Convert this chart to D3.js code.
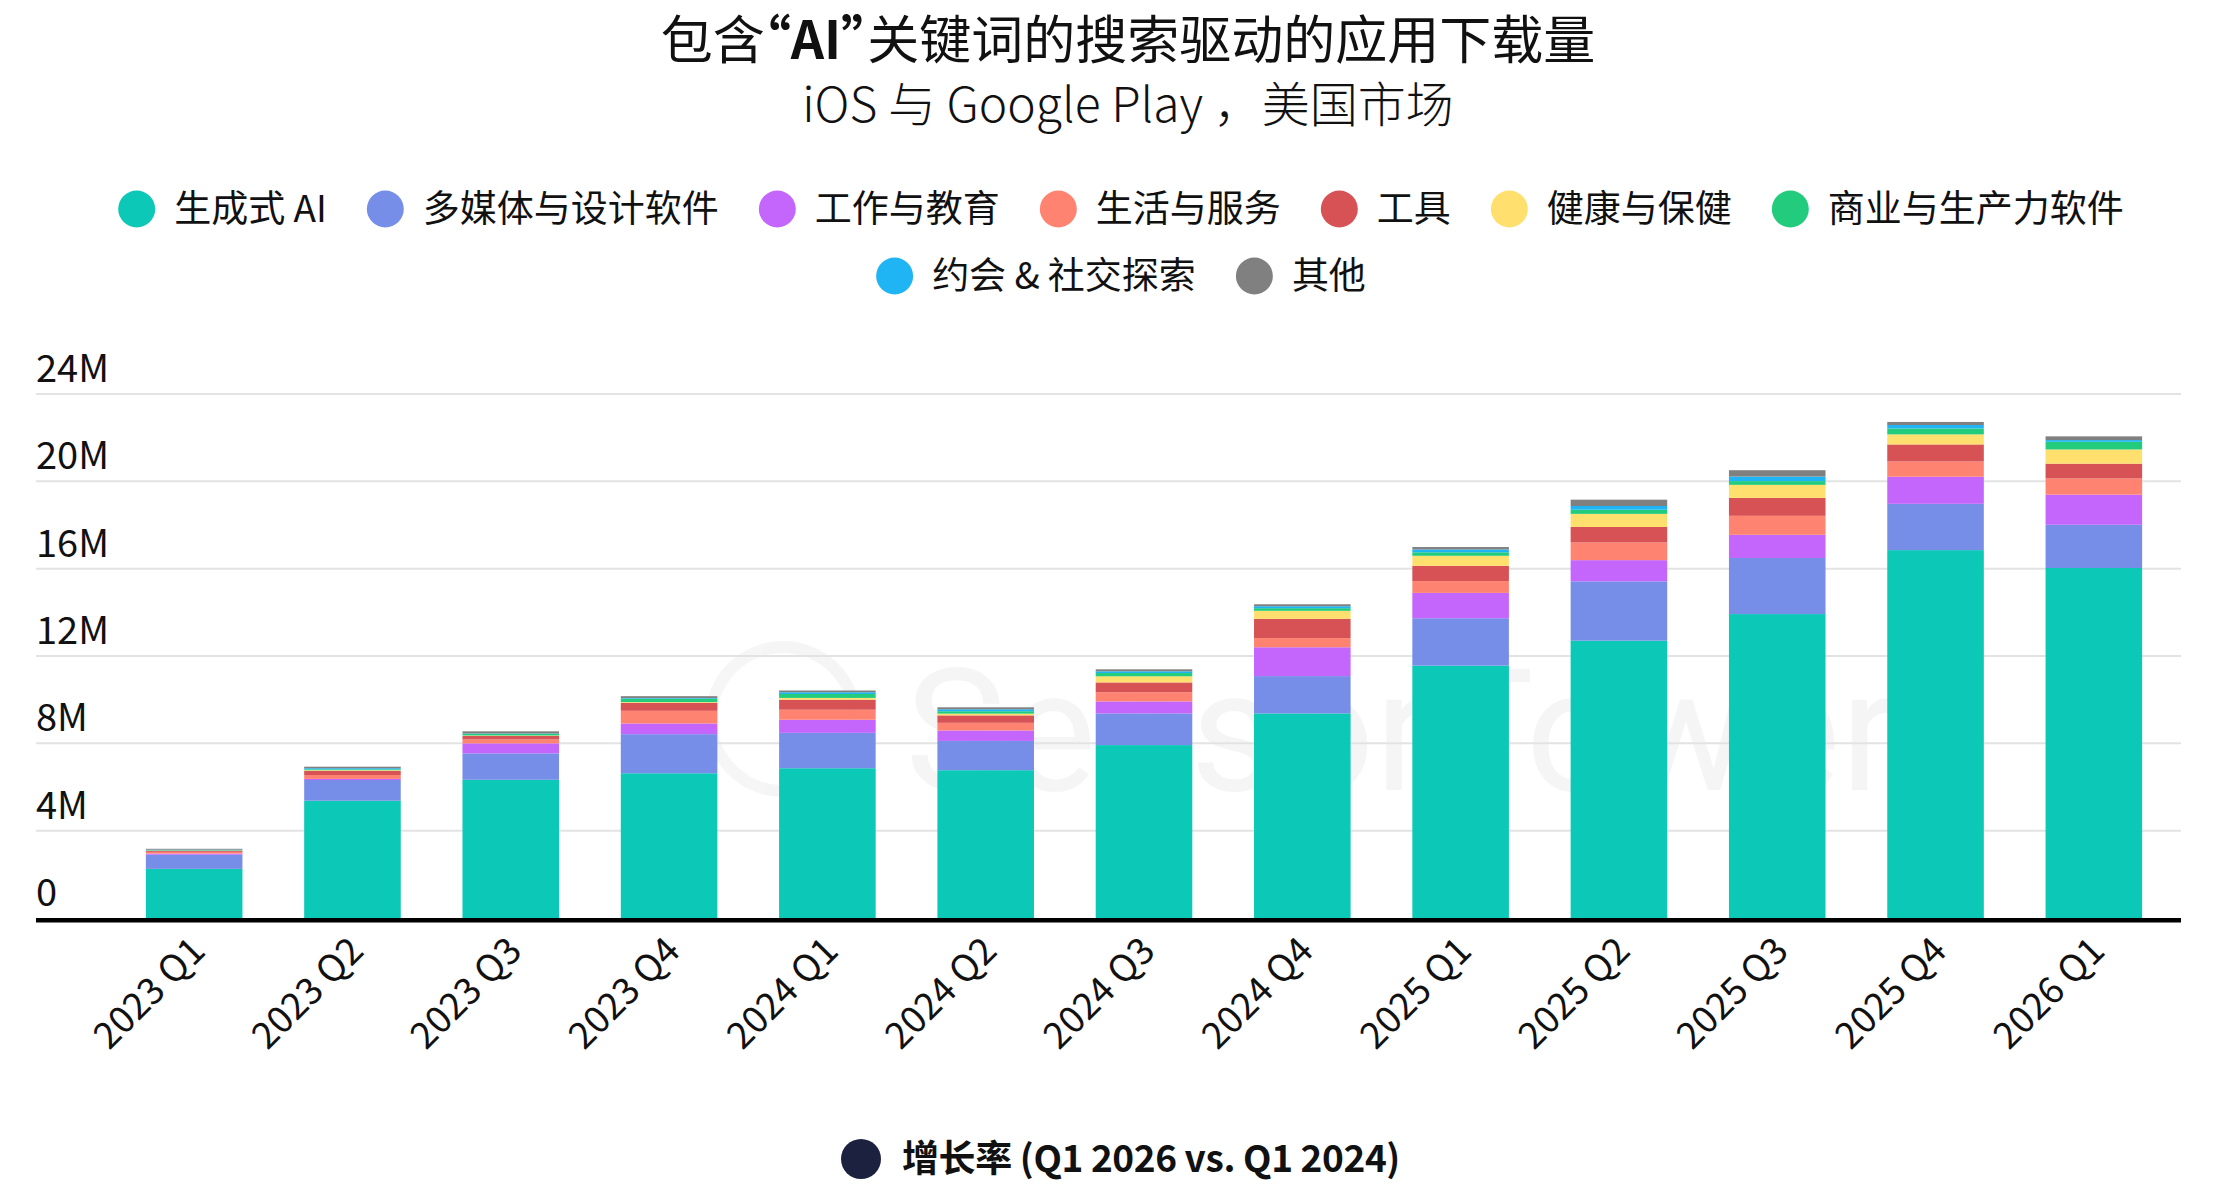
<!DOCTYPE html>
<html>
<head>
<meta charset="utf-8">
<script src="https://cdn.jsdelivr.net/npm/d3@7"></script>
<style>
  html, body { margin: 0; padding: 0; background: #fff; }
  svg { display: block; }
  text { font-family: "Noto Sans CJK SC", "Noto Sans", sans-serif; fill: #111; }
</style>
</head>
<body>
<div id="chart"></div>
<script>
// quarters on the x axis
let quarters = ["2023 Q1", "2023 Q2", "2023 Q3", "2023 Q4", "2024 Q1", "2024 Q2", "2024 Q3",
                "2024 Q4", "2025 Q1", "2025 Q2", "2025 Q3", "2025 Q4", "2026 Q1"];

// downloads per category, millions
let genAI     = [2.25, 5.37, 6.33, 6.63, 6.86, 6.77, 7.92, 9.37, 11.56, 12.70, 13.92, 16.85, 16.03];
let media     = [0.65, 0.95, 1.21, 1.79, 1.62, 1.34, 1.45, 1.71, 2.17, 2.72, 2.57, 2.12, 1.98];
let workEdu   = [0.05, 0.05, 0.46, 0.49, 0.60, 0.48, 0.55, 1.32, 1.16, 0.97, 1.06, 1.24, 1.38];
let lifestyle = [0.08, 0.18, 0.18, 0.58, 0.46, 0.35, 0.42, 0.42, 0.54, 0.81, 0.87, 0.70, 0.74];
let tools     = [0.05, 0.19, 0.16, 0.37, 0.46, 0.34, 0.45, 0.88, 0.70, 0.71, 0.82, 0.78, 0.68];
let health    = [0.01, 0.03, 0.02, 0.03, 0.08, 0.08, 0.28, 0.37, 0.46, 0.60, 0.60, 0.46, 0.65];
let business  = [0.02, 0.04, 0.07, 0.15, 0.18, 0.11, 0.15, 0.12, 0.16, 0.19, 0.17, 0.27, 0.35];
let dating    = [0.02, 0.05, 0.02, 0.03, 0.08, 0.09, 0.08, 0.09, 0.13, 0.17, 0.21, 0.16, 0.08];
let other     = [0.04, 0.07, 0.10, 0.09, 0.08, 0.09, 0.09, 0.09, 0.11, 0.29, 0.29, 0.14, 0.17];

let seriesNames = ["生成式 AI", "多媒体与设计软件", "工作与教育", "生活与服务", "工具",
                   "健康与保健", "商业与生产力软件", "约会 & 社交探索", "其他"];
let seriesValues = [genAI, media, workEdu, lifestyle, tools, health, business, dating, other];
let colors = ["#0cc8b6", "#778ee8", "#c466fb", "#ff8370", "#d65254",
              "#ffe06e", "#22cc7c", "#1fb5f5", "#808080"];

let yTicks = [0, 4, 8, 12, 16, 20, 24];

let width = 2232, height = 1202;

let svg = d3.select("#chart").append("svg")
  .attr("width", width)
  .attr("height", height);

// title, one text element; "palt" keeps the CJK quotes narrow
let title = svg.append("text")
  .attr("x", 1128).attr("y", 59)
  .attr("text-anchor", "middle")
  .style("font-size", "52px")
  .style("font-feature-settings", "'palt'");
title.append("tspan").text("包含");
title.append("tspan").style("font-weight", 700).text("“AI”");
title.append("tspan").text("关键词的搜索驱动的应用下载量");

svg.append("text")
  .attr("x", 1128).attr("y", 122)
  .attr("text-anchor", "middle")
  .style("font-size", "48px")
  .style("font-weight", 300)
  .text("iOS 与 Google Play ，美国市场");

// legend, wrapped into centred rows
let legendFont = 37, r = 18.5;
let lg = svg.append("g");
let items = seriesNames.map((name, i) => {
  let g = lg.append("g");
  g.append("circle").attr("r", r).attr("cx", r).attr("fill", colors[i]);
  let t = g.append("text").attr("x", 2 * r + 19).attr("dy", "0.35em")
    .style("font-size", legendFont + "px").text(name);
  return { g: g, w: 2 * r + 19 + t.node().getComputedTextLength() };
});
let rows = [[]], rowW = [0], gap = 40, maxW = 2100;
items.forEach(it => {
  let cur = rows.length - 1;
  let add = (rows[cur].length ? gap : 0) + it.w;
  if (rowW[cur] + add > maxW) { rows.push([it]); rowW.push(it.w); }
  else { rows[cur].push(it); rowW[cur] += add; }
});
rows.forEach((row, ri) => {
  let x = 1121 - rowW[ri] / 2;
  row.forEach(it => {
    it.g.attr("transform", `translate(${x},${209 + ri * 67})`);
    x += it.w + gap;
  });
});

// scales
let x = d3.scaleBand()
  .domain(quarters)
  .range([115, 2173])
  .paddingInner(0.39)
  .paddingOuter(0.195);

let y = d3.scaleLinear()
  .domain([0, 24])
  .range([918, 394]);

// faint watermark
let wm = svg.append("g").style("opacity", 0.035);
wm.append("circle").attr("cx", 783).attr("cy", 719).attr("r", 72)
  .attr("fill", "none").attr("stroke", "#000").attr("stroke-width", 12);
wm.append("text").attr("x", 905).attr("y", 790)
  .style("font-family", "Roboto, sans-serif").style("font-size", "170px")
  .style("fill", "#000").text("SensorTower");

// gridlines + y labels
svg.append("g").selectAll("line")
  .data(yTicks.filter(d => d > 0))
  .enter().append("line")
  .attr("x1", 36).attr("x2", 2181)
  .attr("y1", d => y(d)).attr("y2", d => y(d))
  .attr("stroke", "#e3e3e3").attr("stroke-width", 2);

svg.append("g").selectAll("text")
  .data(yTicks)
  .enter().append("text")
  .attr("x", 36).attr("y", d => y(d) - 12)
  .style("font-size", "38px")
  .text(d => d === 0 ? "0" : d + "M");

// stacked bars
let table = quarters.map((q, i) => {
  let row = { quarter: q };
  seriesNames.forEach((s, j) => row[s] = seriesValues[j][i]);
  return row;
});
let stacked = d3.stack().keys(seriesNames)(table);

svg.append("g").selectAll("g")
  .data(stacked)
  .enter().append("g")
  .attr("fill", (d, i) => colors[i])
  .selectAll("rect")
  .data(d => d)
  .enter().append("rect")
  .attr("x", d => x(d.data.quarter))
  .attr("width", x.bandwidth())
  .attr("y", d => y(d[1]))
  .attr("height", d => y(d[0]) - y(d[1]));

// baseline
svg.append("line")
  .attr("x1", 36).attr("x2", 2181)
  .attr("y1", y(0) + 2.2).attr("y2", y(0) + 2.2)
  .attr("stroke", "#000").attr("stroke-width", 4.5);

// x axis labels
let xAxis = svg.append("g")
  .attr("transform", `translate(0,${y(0)})`)
  .call(d3.axisBottom(x).tickSize(0));
xAxis.select(".domain").remove();
xAxis.selectAll("text")
  .style("font-size", "37px")
  .style("font-family", "'Noto Sans CJK SC', sans-serif")
  .attr("fill", "#111")
  .attr("text-anchor", "end")
  .attr("dy", null)
  .attr("y", 0)
  .attr("transform", "translate(13,35) rotate(-45)");

// bottom legend
svg.append("circle").attr("cx", 861).attr("cy", 1159).attr("r", 20).attr("fill", "#1d2140");
svg.append("text")
  .attr("x", 902).attr("y", 1159).attr("dy", "0.35em")
  .style("font-size", "37px").style("font-weight", 700)
  .style("letter-spacing", "-0.4px")
  .text("增长率 (Q1 2026 vs. Q1 2024)");
</script>
</body>
</html>
